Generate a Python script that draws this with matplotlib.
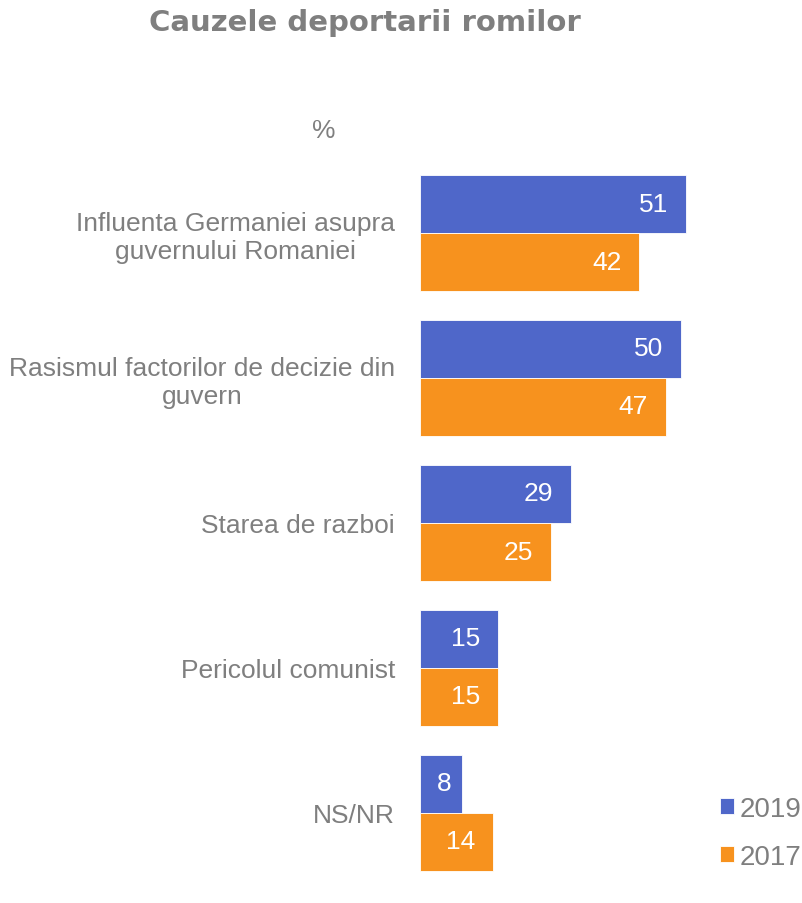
import matplotlib.pyplot as plt
import numpy as np

plt.rcParams['font.family'] = ['Liberation Sans', 'DejaVu Sans']

categorii = ['Influenta Germaniei asupra\nguvernului Romaniei',
             'Rasismul factorilor de decizie din\nguvern',
             'Starea de razboi',
             'Pericolul comunist',
             'NS/NR']
val_2019 = [51, 50, 29, 15, 8]
val_2017 = [42, 47, 25, 15, 14]

blue = '#4F67C9'
orange = '#F7921E'
gray = '#7F7F7F'

fig = plt.figure(figsize=(8.03, 9.04), dpi=100)
# axes in pixel terms: left 420, right 700, top 161, bottom 886
ax = fig.add_axes([420/803, 1-886/904, 280/803, 725/904])

y = np.arange(len(categorii))
h = 0.4
b1 = ax.barh(y - h/2, val_2019, height=h, color=blue, edgecolor='white', linewidth=0.6, label='2019')
b2 = ax.barh(y + h/2, val_2017, height=h, color=orange, edgecolor='white', linewidth=0.6, label='2017')

for bars, vals in [(b1, val_2019), (b2, val_2017)]:
    for bar, v in zip(bars, vals):
        yc = bar.get_y() + bar.get_height()/2
        if v < 10:
            ax.text(v/2 + 0.6, yc, str(v), ha='center', va='center', color='white', fontsize=19)
        else:
            ax.annotate(str(v), xy=(v, yc), xytext=(-13, 0), textcoords='offset points',
                        ha='right', va='center', color='white', fontsize=19)

ax.set_xlim(0, 53.6)
ax.set_ylim(len(categorii) - 0.5, -0.5)
ax.set_yticks(y)
ax.set_yticklabels(categorii, fontsize=19, color=gray, multialignment='center')
ax.tick_params(axis='y', length=0, pad=18)
ax.set_xticks([])
for s in ax.spines.values():
    s.set_visible(False)

fig.text(365/803, 1-23/904, 'Cauzele deportarii romilor', ha='center', va='center',
         fontsize=21, fontweight='bold', color=gray, family='DejaVu Sans')
fig.text(324/803, 1-131/904, '%', ha='center', va='center', fontsize=19, color=gray)

leg = fig.legend(handles=[b1, b2], labels=['2019', '2017'], loc='center left',
                 bbox_to_anchor=(720/803, 1-834/904), frameon=False, fontsize=20,
                 handlelength=0.5, handleheight=0.5, handletextpad=0.2, labelspacing=0.8,
                 borderpad=0, borderaxespad=0)
for t in leg.get_texts():
    t.set_color(gray)

fig.savefig('out.png', dpi=100)
